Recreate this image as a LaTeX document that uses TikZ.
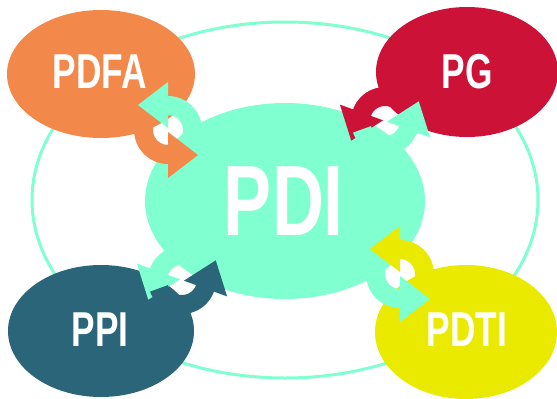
\documentclass[tikz,border=0pt]{standalone}
\usepackage{fontspec}
\usepackage{graphicx}
\setmainfont{Liberation Sans}
\usetikzlibrary{calc}
\definecolor{mint}{RGB}{128,255,208}
\definecolor{pdfaC}{RGB}{242,137,74}
\definecolor{pgC}{RGB}{204,18,54}
\definecolor{ppiC}{RGB}{42,101,121}
\definecolor{pdtiC}{RGB}{234,234,0}
\newcommand{\lbl}[1]{\scalebox{0.72}[1]{\bfseries #1}}
% cycle arrow: #1 colour, #2 centre name, #3 start angle, #4 end angle
\newcommand{\cycarrow}[4]{%
  \fill[#1] ($(#2)+(#3:34)$) arc[start angle=#3, end angle=#4, radius=34]
    -- ($(#2)+(#4:48)$) -- ($(#2)+(#4:25)+(#4-90:30)$) -- ($(#2)+(#4:2)$)
    -- ($(#2)+(#4:15)$) arc[start angle=#4, end angle=#3, radius=15] -- cycle;}
\begin{document}
\begin{tikzpicture}[x=1pt,y=-1pt,
  lab/.style={text=white, inner sep=0pt, font=\fontsize{49}{49}\selectfont},
  biglab/.style={text=white, inner sep=0pt, font=\fontsize{100}{100}\selectfont}]
\useasboundingbox (0,0) rectangle (557,399);
% outer ring
\draw[mint, line width=3] (285,200) ellipse [x radius=253, y radius=178];
% ellipses
\fill[pdfaC] (101,74) ellipse [x radius=94, y radius=64];
\fill[pgC] (467,72) ellipse [x radius=91, y radius=65];
\fill[ppiC] (101,331) ellipse [x radius=93, y radius=66];
\fill[pdtiC] (466,332) ellipse [x radius=91, y radius=67];
\fill[mint] (285,201) ellipse [x radius=140, y radius=98];
% cycle arrow centres
\coordinate (cA) at (168,130);
\coordinate (cB) at (385,121);
\coordinate (cC) at (182,280);
\coordinate (cD) at (400,274);
% PDFA pair
\cycarrow{pdfaC}{cA}{200}{90}
\cycarrow{mint}{cA}{20}{-90}
% PG pair
\cycarrow{pgC}{cB}{-20}{-160}
\cycarrow{mint}{cB}{160}{20}
% PPI pair
\cycarrow{mint}{cC}{-20}{-160}
\cycarrow{ppiC}{cC}{160}{20}
% PDTI pair
\cycarrow{pdtiC}{cD}{20}{-90}
\cycarrow{mint}{cD}{200}{90}
% labels
\node[lab] (pdfa) at (100,72) {\lbl{PDFA}};
\node[lab] (pg) at (467,72) {\lbl{PG}};
\node[lab] (ppi) at (100,330) {\lbl{PPI}};
\node[lab] (pdti) at (467,330) {\lbl{PDTI}};
\node[biglab] (pdi) at (284,201) {\lbl{PDI}};
\end{tikzpicture}
\end{document}
